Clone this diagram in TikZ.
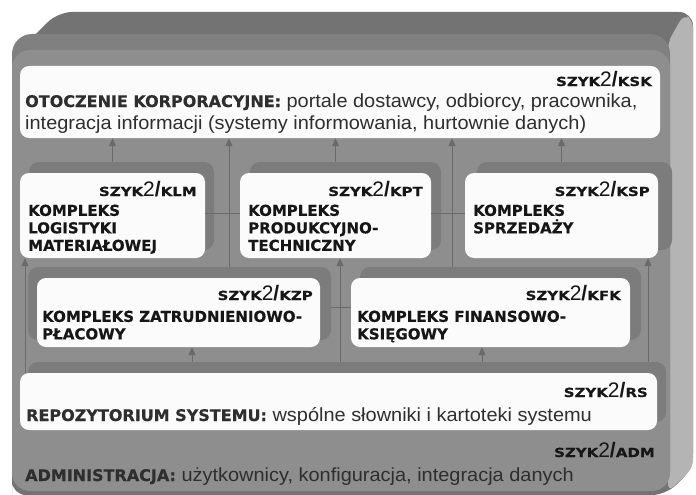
\documentclass[tikz,border=0pt]{standalone}
\usepackage{fontspec}
\setmainfont{Liberation Sans}
\newfontfamily\bodyfont[FakeStretch=1.05]{Liberation Sans}
\newfontfamily\labfont[BoldFeatures={FakeBold=0.5}]{DejaVu Sans}
\newfontfamily\szykfont[FakeStretch=1.2,BoldFeatures={FakeBold=0.5}]{DejaVu Sans}
\newfontfamily\twofont{Liberation Sans}
\usetikzlibrary{arrows.meta,calc}
\definecolor{face}{HTML}{8E8E8E}
\definecolor{topband}{HTML}{737373}
\definecolor{midband}{HTML}{808080}
\definecolor{side}{HTML}{B4B4B4}
\definecolor{backdrop}{HTML}{7C7C7C}
\definecolor{boxwhite}{HTML}{FBFBFB}
\definecolor{conncol}{HTML}{6A6A6A}
\definecolor{ink}{HTML}{161616}
\definecolor{bodyink}{HTML}{2E2E2E}
\newcommand{\szykid}[1]{{\szykfont\bfseries\fontsize{12.5}{13}\selectfont SZYK}{\twofont\fontsize{21}{21}\selectfont 2{\bfseries/}}{\szykfont\bfseries\fontsize{12.5}{13}\selectfont #1}}
\newcommand{\boldlab}[1]{{\labfont\bfseries\fontsize{16}{23}\selectfont #1}}
\begin{document}
\begin{tikzpicture}[x=1pt,y=-1pt,
  wbox/.style={fill=boxwhite, rounded corners=9pt, inner sep=0pt, draw=none},
  bbox/.style={fill=backdrop, rounded corners=10pt, inner sep=0pt, draw=none},
  conn/.style={draw=conncol, line width=0.8pt},
  arr/.style={conn, -{Triangle[width=7pt,length=8pt]}},
  lab/.style={inner sep=0pt, font=\labfont\bfseries\fontsize{15}{17.5}\selectfont, text=ink, align=left, anchor=north west},
  idl/.style={inner sep=0pt, anchor=base east, text=ink},
  body/.style={inner sep=0pt, anchor=base west, text=bodyink, font=\bodyfont\fontsize{19}{23}\selectfont},
]
\useasboundingbox (0,0) rectangle (696,495);
\fill[white] (0,0) rectangle (696,495);
% outer 3D box
\fill[topband, rounded corners=14pt] (12,491) -- (12,58) -- (58,12) -- (693,12) -- (693,468) -- (666,495) -- (12,495) -- cycle;
\fill[side, rounded corners=8pt] (668,42) -- (684,14) -- (693,20) -- (693,468) -- (668,492) -- cycle;
\fill[midband, rounded corners=20pt] (12,34) rectangle (670,491);
\fill[face, rounded corners=18pt] (12,50) rectangle (670,491);
% backdrops
\node[bbox, minimum width=185pt, minimum height=88pt] (klmb) at (121.5,206) {};
\node[bbox, minimum width=191pt, minimum height=88pt] (kptb) at (345.5,206) {};
\node[bbox, minimum width=195pt, minimum height=88pt] (kspb) at (574.5,206) {};
\node[bbox, minimum width=303pt, minimum height=73pt] (kzpb) at (179.5,303.5) {};
\node[bbox, minimum width=281pt, minimum height=73pt] (kfkb) at (500.5,303.5) {};
\node[bbox, minimum width=638pt, minimum height=60pt] (rsb) at (347,392) {};
% white boxes
\node[wbox, minimum width=640pt, minimum height=72pt] (ksk) at (340,102) {};
\node[wbox, minimum width=185pt, minimum height=85pt] (klm) at (112.5,215.5) {};
\node[wbox, minimum width=191pt, minimum height=85pt] (kpt) at (335.5,215.5) {};
\node[wbox, minimum width=193pt, minimum height=85pt] (ksp) at (561.5,215.5) {};
\node[wbox, minimum width=283pt, minimum height=69pt] (kzp) at (178.5,312.5) {};
\node[wbox, minimum width=279pt, minimum height=69pt] (kfk) at (490.5,312.5) {};
\node[wbox, minimum width=637pt, minimum height=57pt] (rs) at (338.5,401.5) {};
% helper coordinates
\coordinate (xa) at (229,0);
\coordinate (xb) at (452,0);
\coordinate (xc) at (25,0);
\coordinate (xd) at (340,0);
\coordinate (xe) at (648,0);
\coordinate (xf) at (192,0);
\coordinate (xg) at (482,0);
\coordinate (ya) at (0,213);
\coordinate (yb) at (0,307);
% connectors
\draw[arr] (klm.north |- klmb.north) -- (klm.north |- ksk.south);
\draw[arr] (kpt.north |- kptb.north) -- (kpt.north |- ksk.south);
\draw[arr] (ksp.north |- kspb.north) -- (ksp.north |- ksk.south);
\draw[arr] (kzpb.north -| xa) -- (ksk.south -| xa);
\draw[arr] (kfkb.north -| xb) -- (ksk.south -| xb);
\draw[arr] (rs.north -| xc) -- (klm.south -| xc);
\draw[arr] (rsb.north -| xd) -- (kpt.south -| xd);
\draw[arr] (rsb.north -| xe) -- (ksp.south -| xe);
\draw[arr] (rsb.north -| xf) -- (kzp.south -| xf);
\draw[arr] (rsb.north -| xg) -- (kfk.south -| xg);
\draw[conn] (klm.east |- ya) -- (kpt.west |- ya);
\draw[conn] (kpt.east |- ya) -- (ksp.west |- ya);
\draw[conn] (kzpb.east |- yb) -- (kfk.west |- yb);
% texts
\node[idl] (kskid) at (652,86) {\szykid{KSK}};
\node[body] (kskt1) at (25,107) {\boldlab{OTOCZENIE KORPORACYJNE:} portale dostawcy, odbiorcy, pracownika,};
\node[body] (kskt2) at (25,129) {integracja informacji (systemy informowania, hurtownie danych)};
\node[idl] (klmid) at (197,196) {\szykid{KLM}};
\node[lab] (klmt) at (28,204.5) {KOMPLEKS\\LOGISTYKI\\MATERIAŁOWEJ};
\node[idl] (kptid) at (423,196) {\szykid{KPT}};
\node[lab] (kptt) at (248,204.5) {KOMPLEKS\\PRODUKCYJNO-\\TECHNICZNY};
\node[idl] (kspid) at (650,196) {\szykid{KSP}};
\node[lab] (kspt) at (473,204.5) {KOMPLEKS\\SPRZEDAŻY};
\node[idl] (kzpid) at (313,300) {\szykid{KZP}};
\node[lab] (kzpt) at (42,310.5) {KOMPLEKS ZATRUDNIENIOWO-\\PŁACOWY};
\node[idl] (kfkid) at (621,300) {\szykid{KFK}};
\node[lab] (kfkt) at (357,310.5) {KOMPLEKS FINANSOWO-\\KSIĘGOWY};
\node[idl] (rsid) at (648,397) {\szykid{RS}};
\node[body] (rst) at (26,421) {\boldlab{REPOZYTORIUM SYSTEMU:} wspólne słowniki i kartoteki systemu};
\node[idl] (admid) at (655,457) {\szykid{ADM}};
\node[body] (admt) at (25,481) {\boldlab{ADMINISTRACJA:} użytkownicy, konfiguracja, integracja danych};
\end{tikzpicture}
\end{document}
